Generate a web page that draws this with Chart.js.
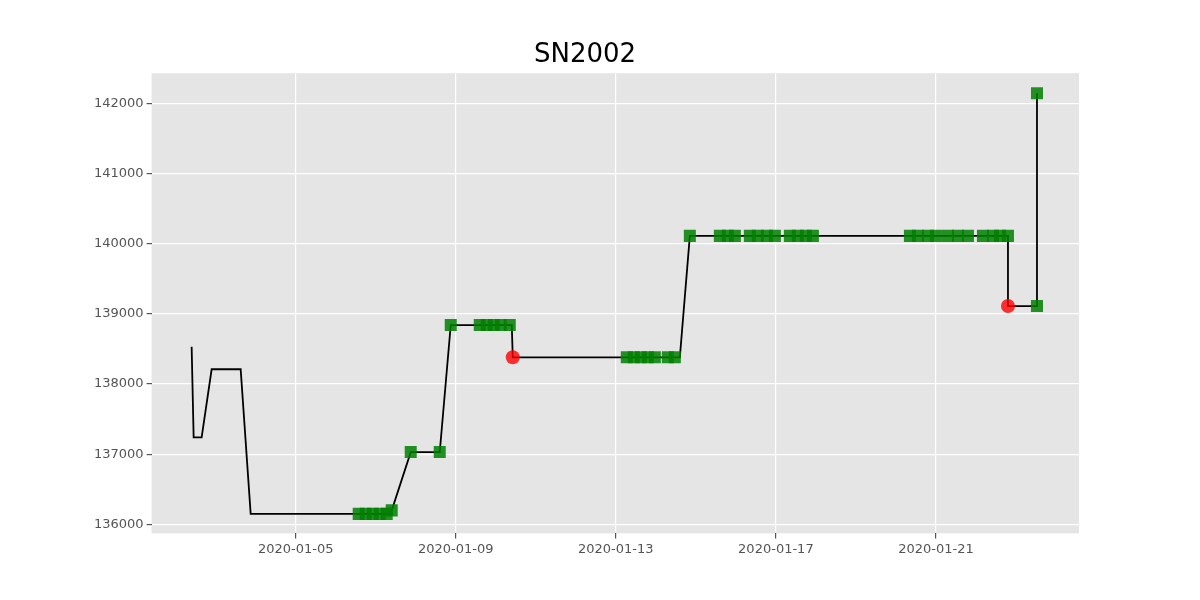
<!DOCTYPE html>
<html>
<head>
<meta charset="utf-8">
<script src="https://cdn.jsdelivr.net/npm/chart.js@4/dist/chart.umd.min.js"></script>
<style>
  body { margin: 0; background: #fff; }
  #wrap { width: 1200px; height: 600px; }
</style>
</head>
<body>
<div id="wrap"><canvas id="chart"></canvas></div>
<script>
// days counted from 2020-01-01 (day 0)
const lineDays = [1.4, 1.45, 1.65, 1.9, 2.625, 2.875, 6.4, 6.4, 6.875, 7.6, 7.875, 9.4, 9.425, 13.6, 13.85, 21.8, 21.8, 22.525, 22.525];
const lineVals = [138530, 137240, 137240, 138210, 138210, 136150, 136150, 136200, 137030, 137030, 138840, 138840, 138380, 138380, 140110, 140110, 139110, 139110, 142140];

const greenDays = [5.575, 5.75, 5.925, 6.1, 6.275, 6.4, 6.875, 7.6, 7.875, 8.6, 8.775, 8.95, 9.125, 9.35,
  12.275, 12.45, 12.625, 12.8, 12.975, 13.3, 13.475, 13.85,
  14.6, 14.8, 14.975, 15.35, 15.55, 15.775, 15.975, 16.35, 16.55, 16.75, 16.925,
  19.35, 19.55, 19.8, 20.0, 20.3, 20.55, 20.8, 21.175, 21.425, 21.6, 21.8, 22.525, 22.525];
const greenVals = [136150, 136150, 136150, 136150, 136150, 136200, 137030, 137030, 138840, 138840, 138840, 138840, 138840, 138840,
  138380, 138380, 138380, 138380, 138380, 138380, 138380, 140110,
  140110, 140110, 140110, 140110, 140110, 140110, 140110, 140110, 140110, 140110, 140110,
  140110, 140110, 140110, 140110, 140110, 140110, 140110, 140110, 140110, 140110, 140110, 139110, 142140];

const redDays = [9.425, 21.8];
const redVals = [138380, 139110];

const tickDays = [4, 8, 12, 16, 20];
const tickLabels = ['2020-01-05', '2020-01-09', '2020-01-13', '2020-01-17', '2020-01-21'];

const toXY = (xs, ys) => xs.map((x, i) => ({ x: x, y: ys[i] }));

// fond gris type ggplot
const bgPlugin = {
  id: 'bg',
  beforeDraw(chart) {
    const { ctx, chartArea: a } = chart;
    ctx.save();
    ctx.fillStyle = '#e5e5e5';
    ctx.fillRect(a.left, a.top, a.right - a.left, a.bottom - a.top);
    ctx.restore();
  }
};

new Chart(document.getElementById('chart'), {
  type: 'scatter',
  data: {
    datasets: [
      {
        type: 'line',
        data: toXY(lineDays, lineVals),
        borderColor: '#000',
        borderWidth: 1.8,
        pointRadius: 0,
        tension: 0,
        order: 3
      },
      {
        data: toXY(greenDays, greenVals),
        pointStyle: 'rect',
        pointRadius: 8.5,
        backgroundColor: 'rgba(0,128,0,0.85)',
        borderColor: 'rgba(0,128,0,0)',
        borderWidth: 0,
        order: 2
      },
      {
        data: toXY(redDays, redVals),
        pointStyle: 'circle',
        pointRadius: 7,
        backgroundColor: 'rgba(255,0,0,0.8)',
        borderColor: 'rgba(255,0,0,0)',
        borderWidth: 0,
        order: 1
      }
    ]
  },
  options: {
    responsive: true,
    maintainAspectRatio: false,
    animation: false,
    layout: { padding: { top: 10, right: 121, bottom: 40, left: 91 } },
    plugins: {
      legend: { display: false },
      tooltip: { enabled: false },
      title: {
        display: true,
        text: 'SN2002',
        color: '#000',
        font: { family: 'DejaVu Sans', size: 26, weight: 'normal' },
        padding: { top: 30, bottom: 2 }
      }
    },
    scales: {
      x: {
        type: 'linear',
        min: 0.4,
        max: 23.575,
        afterBuildTicks: axis => { axis.ticks = tickDays.map(v => ({ value: v })); },
        ticks: {
          color: '#555',
          font: { family: 'DejaVu Sans', size: 13 },
          callback: v => tickLabels[tickDays.indexOf(v)] || ''
        },
        grid: { color: '#fff', lineWidth: 1.2, tickColor: '#555', tickLength: 5 },
        border: { display: false }
      },
      y: {
        min: 135872,
        max: 142427,
        afterBuildTicks: axis => { axis.ticks = [136000, 137000, 138000, 139000, 140000, 141000, 142000].map(v => ({ value: v })); },
        ticks: {
          color: '#555',
          font: { family: 'DejaVu Sans', size: 13 },
          callback: v => String(v)
        },
        grid: { color: '#fff', lineWidth: 1.2, tickColor: '#555', tickLength: 5 },
        border: { display: false }
      }
    }
  },
  plugins: [bgPlugin]
});
</script>
</body>
</html>
